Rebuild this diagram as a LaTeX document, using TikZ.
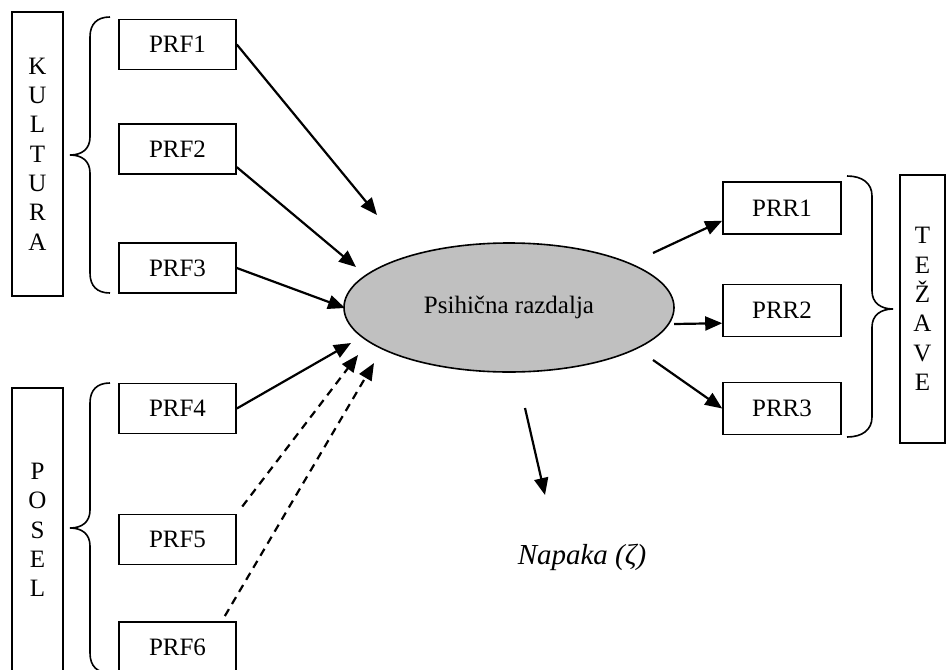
\documentclass[tikz,border=0pt]{standalone}
\usepackage{fontspec}
\setmainfont{Liberation Serif}
\usetikzlibrary{arrows.meta, shapes.geometric}
\definecolor{ellgray}{RGB}{192,192,192}

\begin{document}
\begin{tikzpicture}[
            x = 0.5pt, y = -0.5pt, % one unit = one pixel of the sketch
            > = {Triangle[length=8.5pt, width=7pt]}, % arrow head style
            font = \fontsize{12.5}{14.65}\selectfont,
            line width = 0.8pt % line style
        ]

        \tikzstyle{factor}=[
            draw = black,
            minimum width = 58.5pt,
            minimum height = 25pt,
            inner sep = 0pt
        ]
        \tikzstyle{group}=[
            draw = black,
            align = center,
            minimum width = 25.5pt,
            inner sep = 0pt
        ]
        \tikzstyle{link}=[->, line width = 1.1pt]
        \tikzstyle{weak}=[link, dash pattern = on 4pt off 3pt]

        \useasboundingbox (0,0) rectangle (946,669);

        \node[group, minimum height = 142pt] (kultura) at (37.5,154) {K\\U\\L\\T\\U\\R\\A};
        \node[group, minimum height = 142pt] (posel) at (37.5,530) {P\\O\\S\\E\\L};
        \node[group, minimum width = 22.5pt, minimum height = 134pt] (tezave) at (922.5,309) {T\\E\\Ž\\A\\V\\E};

        \node[factor] (prf1) at (177.5,44.5) {PRF1};
        \node[factor] (prf2) at (177.5,149) {PRF2};
        \node[factor] (prf3) at (177.5,268) {PRF3};
        \node[factor] (prf4) at (177.5,408.5) {PRF4};
        \node[factor] (prf5) at (177.5,539.5) {PRF5};
        \node[factor] (prf6) at (177.5,647) {PRF6};

        \node[ellipse, draw, fill = ellgray, minimum width = 165pt,
            minimum height = 64.5pt, inner sep = 0pt] (psi) at (509,307.5) {Psihična razdalja};

        \node[factor, minimum width = 59pt, minimum height = 26pt] (prr1) at (782,208) {PRR1};
        \node[factor, minimum width = 59pt, minimum height = 26pt] (prr2) at (782,310.5) {PRR2};
        \node[factor, minimum width = 59pt, minimum height = 26pt] (prr3) at (782,408.5) {PRR3};

        \node[font = \fontsize{14.5}{17}\selectfont\itshape] (napaka) at (582,557) {Napaka (ζ)};

        \coordinate (in1) at (377,215);
        \coordinate (in2) at (356,267);
        \coordinate (in3) at (345,308);
        \coordinate (in4) at (351,343);
        \coordinate (in5) at (358,355);
        \coordinate (in6) at (374,363);
        \coordinate (out1) at (653,253);
        \coordinate (out2) at (674,324);
        \coordinate (out3) at (653,360);
        \coordinate (err0) at (525,408);
        \coordinate (err1) at (545,495);

        \draw[link] (prf1.east) -- (in1);
        \draw[link] (prf2.-17) -- (in2);
        \draw[link] (prf3.east) -- (in3);
        \draw[link] (prf4.east) -- (in4);
        \draw[weak, shorten < = 4.5pt] (prf5.north east) -- (in5);
        \draw[weak, shorten < = 3pt] ([xshift=-7.5pt]prf6.north east) -- (in6);
        \draw[link] (out1) -- (prr1.192);
        \draw[link] (out2) -- (prr2.192);
        \draw[link] (out3) -- (prr3.west);
        \draw[link] (err0) -- (err1);

        % braces
        \draw (110,17) .. controls (97,17) and (90,24) .. (90,37) -- (90,137)
            .. controls (90,149) and (82,155) .. (70,155)
            .. controls (82,155) and (90,161) .. (90,173) -- (90,273)
            .. controls (90,286) and (97,293) .. (110,293);
        \draw (110,383) .. controls (97,383) and (90,390) .. (90,403) -- (90,510)
            .. controls (90,522) and (82,528) .. (70,528)
            .. controls (82,528) and (90,534) .. (90,546) -- (90,653)
            .. controls (90,666) and (97,673) .. (110,673);
        \draw (847,176) .. controls (862,176) and (872,183) .. (872,196) -- (872,291)
            .. controls (872,303) and (881,309) .. (893,309)
            .. controls (881,309) and (872,315) .. (872,327) -- (872,417)
            .. controls (872,430) and (862,437) .. (847,437);

  \end{tikzpicture}
\end{document}
